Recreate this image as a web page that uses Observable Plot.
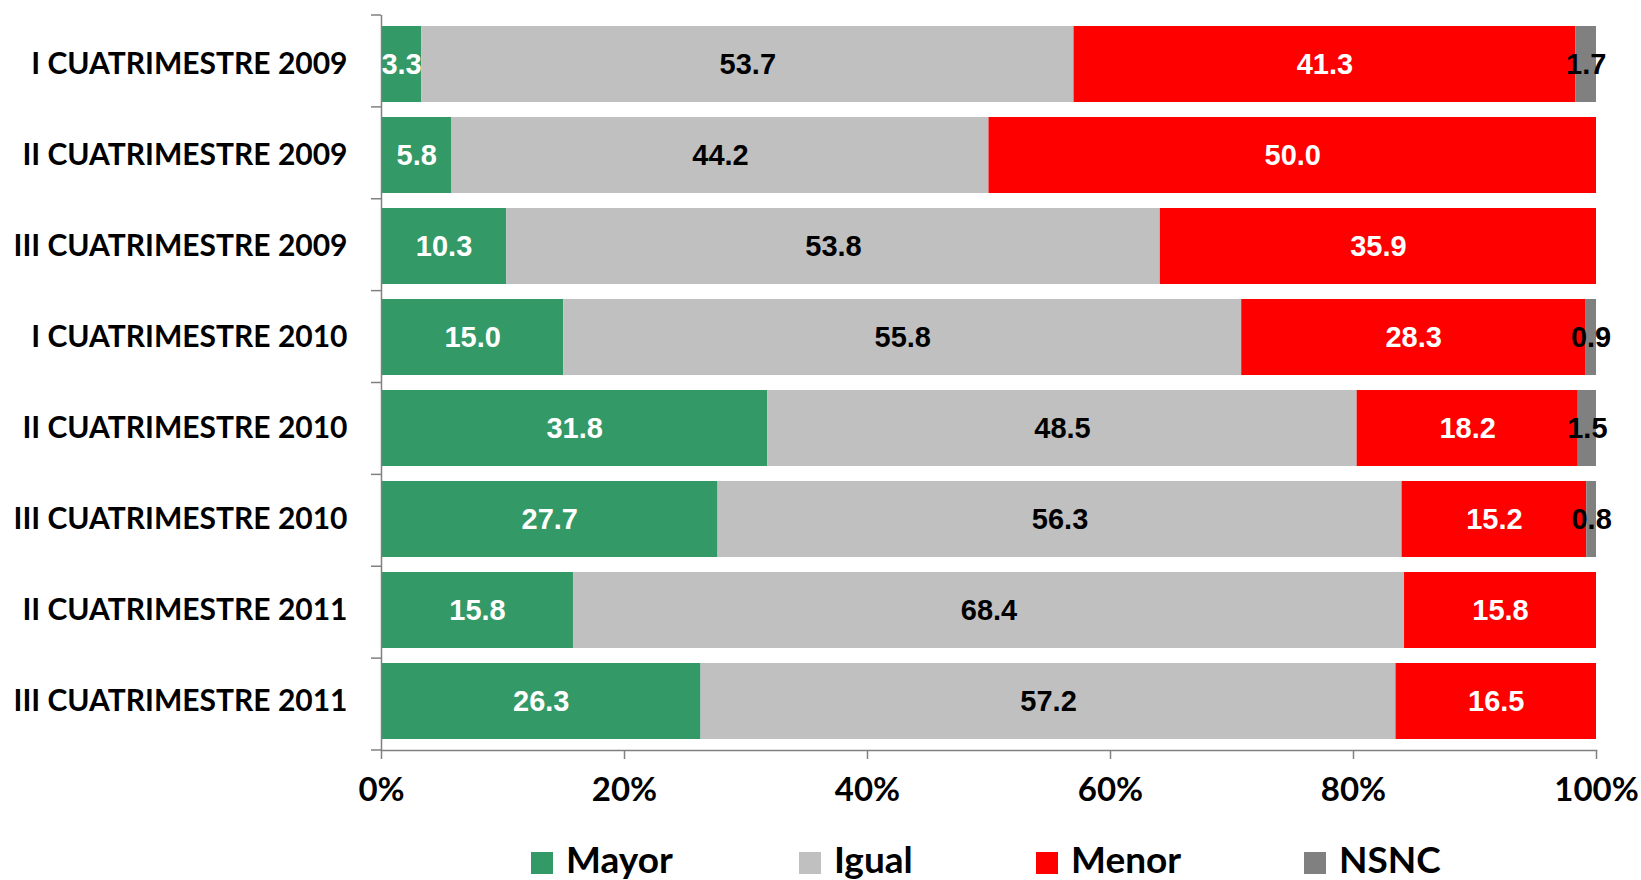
<!DOCTYPE html>
<html>
<head>
<meta charset="utf-8">
<script src="https://cdn.jsdelivr.net/npm/d3@7"></script>
<script src="https://cdn.jsdelivr.net/npm/@observablehq/plot@0.6"></script>
<style>
  html, body { margin: 0; padding: 0; background: #fff; }
  #wrap { width: 1641px; position: relative; }
  #legend { position: relative; width: 1641px; height: 65px; font-family: Lato, "Liberation Sans", sans-serif; font-weight: bold; font-size: 37px; color: #000; overflow: hidden; }
  #legend .sw { position: absolute; top: 37px; width: 22px; height: 22px; }
  #legend .lb { position: absolute; top: 25px; line-height: 37px; white-space: nowrap; }
</style>
</head>
<body>
<div id="wrap"><div id="chart"></div><div id="legend"></div></div>
<script>
const categories = [
  "I CUATRIMESTRE 2009",
  "II CUATRIMESTRE 2009",
  "III CUATRIMESTRE 2009",
  "I CUATRIMESTRE 2010",
  "II CUATRIMESTRE 2010",
  "III CUATRIMESTRE 2010",
  "II CUATRIMESTRE 2011",
  "III CUATRIMESTRE 2011"
];
const mayor = [3.3, 5.8, 10.3, 15.0, 31.8, 27.7, 15.8, 26.3];
const igual = [53.7, 44.2, 53.8, 55.8, 48.5, 56.3, 68.4, 57.2];
const menor = [41.3, 50.0, 35.9, 28.3, 18.2, 15.2, 15.8, 16.5];
const nsnc  = [1.7, 0, 0, 0.9, 1.5, 0.8, 0, 0];
const seriesNames = ["Mayor", "Igual", "Menor", "NSNC"];
const seriesColors = ["#339966", "#C0C0C0", "#FF0000", "#808080"];
const whiteLabelSeries = ["Mayor", "Menor"];
const xTicks = [0, 20, 40, 60, 80, 100];
const legendSwatchLeft = [531, 799, 1036, 1304];

const rows = [];
[mayor, igual, menor, nsnc].forEach((vals, si) =>
  vals.forEach((v, ci) => rows.push({cat: categories[ci], series: seriesNames[si], value: v}))
);

const labelFont = "'Liberation Sans', Arial, sans-serif";
const axisFont = "Lato, 'Liberation Sans', sans-serif";
const axisColor = "#808080";

function bandBoundaryTicks(index, scales, values, dimensions) {
  const x = scales.x;
  const g = d3.create("svg:g").attr("stroke", axisColor).attr("stroke-width", 1.5);
  const x0 = x(0);
  const top = dimensions.marginTop;
  const bottom = dimensions.height - dimensions.marginBottom;
  const step = (bottom - top) / categories.length;
  for (let i = 0; i <= categories.length; i++) {
    const yy = top + i * step;
    g.append("line").attr("x1", x0 - 10).attr("x2", x0).attr("y1", yy).attr("y2", yy);
  }
  return g.node();
}

function labelText(keep) {
  return d => (keep(d.series) && d.value > 0) ? d.value.toFixed(1) : null;
}

const chart = Plot.plot({
  width: 1641,
  height: 815,
  marginLeft: 381,
  marginRight: 45,
  marginTop: 15,
  marginBottom: 65,
  style: {background: "white"},
  x: {domain: [0, 100], axis: null},
  y: {domain: categories, paddingInner: 0.17, paddingOuter: 0.085, axis: null},
  color: {domain: seriesNames, range: seriesColors},
  marks: [
    Plot.barX(rows, Plot.stackX({x: "value", y: "cat", fill: "series", order: seriesNames})),
    Plot.text(rows, Plot.stackX({
      x: "value", y: "cat", z: "series", order: seriesNames,
      text: labelText(s => whiteLabelSeries.includes(s)),
      fill: "white", fontSize: 29, fontWeight: "bold", fontFamily: labelFont
    })),
    Plot.text(rows, Plot.stackX({
      x: "value", y: "cat", z: "series", order: seriesNames,
      text: labelText(s => !whiteLabelSeries.includes(s)),
      fill: "black", fontSize: 29, fontWeight: "bold", fontFamily: labelFont
    })),
    Plot.ruleX([0], {stroke: axisColor, strokeWidth: 1.5}),
    Plot.frame({anchor: "bottom", stroke: axisColor, strokeWidth: 1.5}),
    bandBoundaryTicks,
    Plot.axisX({
      ticks: xTicks, tickFormat: d => d + "%", tickSize: 9, tickPadding: 18,
      stroke: axisColor, strokeWidth: 1.5, fill: "black",
      fontSize: 33, fontWeight: "bold", fontFamily: axisFont, label: null
    }),
    Plot.axisY({
      tickSize: 0, tickPadding: 34, fill: "black",
      fontSize: 30, fontWeight: "bold", fontFamily: axisFont, label: null
    })
  ]
});
document.getElementById("chart").appendChild(chart);

const legend = d3.select("#legend");
seriesNames.forEach((name, i) => {
  legend.append("div").attr("class", "sw")
    .style("left", legendSwatchLeft[i] + "px")
    .style("background", seriesColors[i]);
  legend.append("div").attr("class", "lb")
    .style("left", (legendSwatchLeft[i] + 35) + "px")
    .text(name);
});
</script>
</body>
</html>
